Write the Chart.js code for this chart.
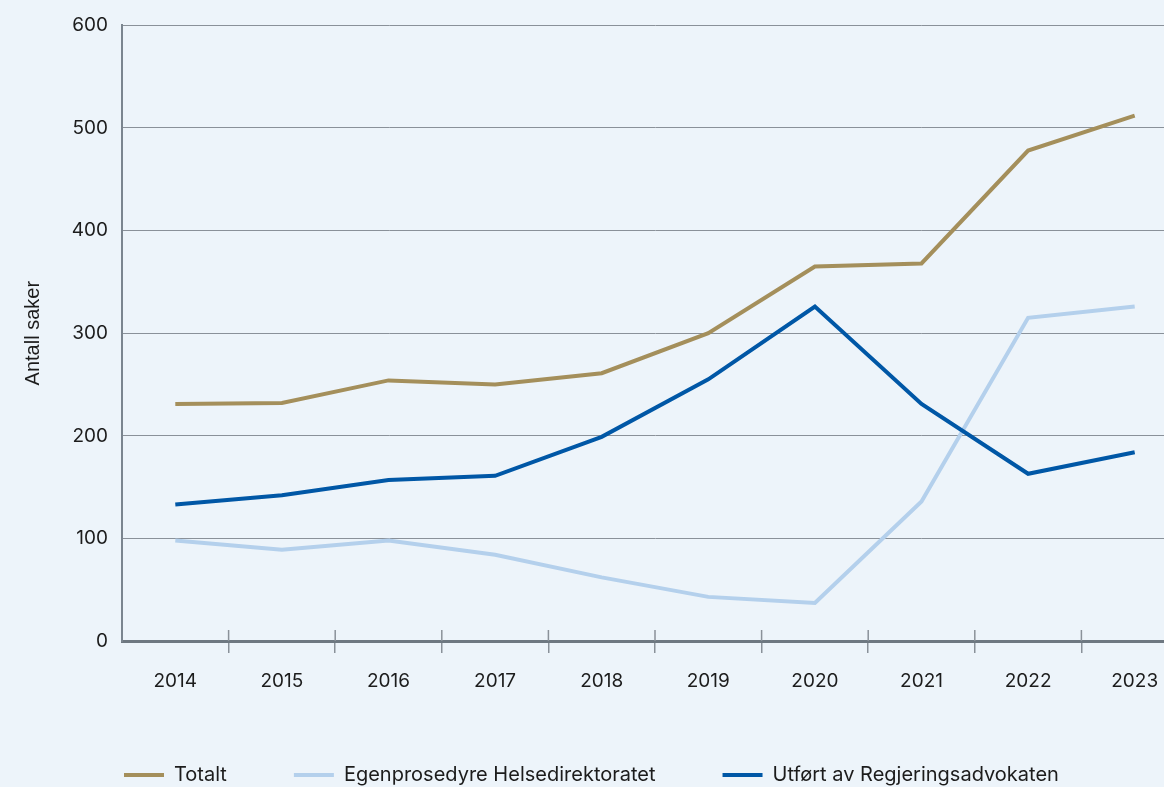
<!DOCTYPE html>
<html>
<head>
<meta charset="utf-8">
<script src="https://cdn.jsdelivr.net/npm/chart.js@4"></script>
<style>
  html, body { margin: 0; padding: 0; background: #EDF4FA; overflow: hidden; }
  #wrap { width: 1190px; height: 795px; position: relative; }
</style>
</head>
<body>
<div id="wrap"><canvas id="sakerChart"></canvas></div>
<script>
const years = ['2014', '2015', '2016', '2017', '2018', '2019', '2020', '2021', '2022', '2023'];
const totalt = [231, 232, 254, 250, 261, 300, 365, 368, 478, 512];
const egenprosedyre = [98, 89, 98, 84, 62, 43, 37, 136, 315, 326];
const regjeringsadvokaten = [133, 142, 157, 161, 199, 255, 326, 231, 163, 184];
const yTicks = [0, 100, 200, 300, 400, 500, 600];

const gridGrey = '#8a9199';
const textColor = '#1c1c1c';

// short tick marks above the x axis, between the years
const tickCross = {
    id: 'tickCross',
    afterDraw(chart) {
        const xs = chart.scales.x;
        const ctx = chart.ctx;
        const bottom = chart.chartArea.bottom;
        ctx.save();
        ctx.strokeStyle = gridGrey;
        ctx.lineWidth = 1.5;
        for (let i = 1; i < years.length; i++) {
            const x = (xs.getPixelForValue(i - 1) + xs.getPixelForValue(i)) / 2;
            ctx.beginPath();
            ctx.moveTo(x, bottom - 11);
            ctx.lineTo(x, bottom);
            ctx.stroke();
        }
        ctx.restore();
    }
};

const ctx = document.getElementById('sakerChart').getContext('2d');
new Chart(ctx, {
    type: 'line',
    data: {
        labels: years,
        datasets: [{
            label: 'Totalt',
            data: totalt,
            borderColor: '#A48F5B',
            backgroundColor: '#A48F5B',
            borderWidth: 4,
            pointRadius: 0,
            tension: 0,
            order: 2
        }, {
            label: 'Egenprosedyre Helsedirektoratet',
            data: egenprosedyre,
            borderColor: '#B4D0EC',
            backgroundColor: '#B4D0EC',
            borderWidth: 4,
            pointRadius: 0,
            tension: 0,
            order: 1
        }, {
            label: 'Utført av Regjeringsadvokaten',
            data: regjeringsadvokaten,
            borderColor: '#0057A6',
            backgroundColor: '#0057A6',
            borderWidth: 4,
            pointRadius: 0,
            tension: 0,
            order: 0
        }]
    },
    options: {
        responsive: true,
        maintainAspectRatio: false,
        animation: false,
        layout: { padding: { left: 57, right: 2, top: 24, bottom: 0 } },
        plugins: {
            tooltip: { enabled: false },
            legend: {
                position: 'bottom',
                align: 'start',
                labels: {
                    usePointStyle: true,
                    pointStyle: 'line',
                    pointStyleWidth: 40,
                    padding: 67,
                    color: textColor,
                    font: { family: 'Inter', size: 20 },
                    sort: (a, b) => a.datasetIndex - b.datasetIndex
                }
            }
        },
        scales: {
            x: {
                offset: true,
                grid: {
                    offset: true,
                    drawOnChartArea: false,
                    tickLength: 12,
                    lineWidth: 1.5,
                    color: (c) => c.index === 0 ? 'rgba(0,0,0,0)' : gridGrey
                },
                border: { color: '#6e7881', width: 3 },
                ticks: {
                    color: textColor,
                    padding: 17,
                    maxRotation: 0,
                    font: { family: 'Inter', size: 19 }
                },
                afterFit(scale) { scale.height = 57; }
            },
            y: {
                min: 0,
                max: 600,
                afterBuildTicks(scale) { scale.ticks = yTicks.map(v => ({ value: v })); },
                grid: { color: gridGrey, lineWidth: 1, drawTicks: false },
                border: { color: '#7b858f', width: 2 },
                ticks: {
                    color: textColor,
                    padding: 14,
                    font: { family: 'Inter', size: 19 }
                },
                title: {
                    display: true,
                    text: 'Antall saker',
                    color: textColor,
                    padding: { top: -36, bottom: 0 },
                    font: { family: 'Liberation Sans', size: 20 }
                },
                afterFit(scale) { scale.width = 65; }
            }
        }
    },
    plugins: [tickCross]
});
</script>
</body>
</html>
